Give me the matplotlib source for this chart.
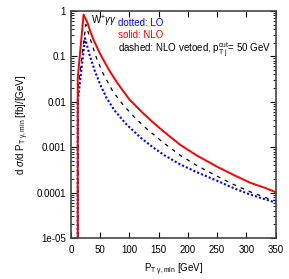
import numpy as np
from matplotlib import pyplot as plt
from matplotlib.ticker import LogLocator, NullFormatter

plt.rcParams['font.family'] = ['Liberation Sans', 'DejaVu Sans']
plt.rcParams['mathtext.fontset'] = 'custom'
plt.rcParams['mathtext.rm'] = 'Liberation Sans'
plt.rcParams['mathtext.it'] = 'Liberation Sans:italic'
plt.rcParams['mathtext.bf'] = 'Liberation Sans:bold'

# NLO (solid red), log10 of d sigma / d pT
pt_nlo = [11.5, 11.5, 21.5, 28, 33, 38, 50, 65, 80, 100, 120, 140, 160, 187, 215, 250, 278, 306, 335, 350]
lg_nlo = [-8, -1.48, -0.08, -0.25, -0.45, -0.62, -0.95, -1.30, -1.60, -1.95, -2.21, -2.45, -2.67, -2.95, -3.18, -3.43, -3.61, -3.78, -3.91, -3.99]

# LO (dotted blue)
pt_lo = [11.5, 11.5, 24, 32.5, 41, 50, 61, 75, 95, 120, 140, 160, 187, 215, 250, 278, 306, 335, 350]
lg_lo = [-8, -2.0, -0.60, -1.00, -1.33, -1.62, -1.92, -2.20, -2.50, -2.80, -3.00, -3.18, -3.38, -3.55, -3.74, -3.90, -4.04, -4.16, -4.22]

# NLO vetoed, pT jet cut 50 GeV (dashed black)
pt_veto = [12, 12, 25.5, 32.5, 44, 55, 72, 90, 110, 130, 160, 187, 215, 250, 278, 306, 335, 350]
lg_veto = [-8, -1.7, -0.30, -0.60, -1.05, -1.38, -1.78, -2.08, -2.36, -2.60, -2.92, -3.18, -3.40, -3.64, -3.82, -3.98, -4.12, -4.18]

y_ticks = [1e-5, 1e-4, 1e-3, 1e-2, 1e-1, 1]
y_labels = ['1e-05', '0.0001', '0.001', '0.01', '0.1', '1']
x_ticks = [0, 50, 100, 150, 200, 250, 300, 350]

fig = plt.figure(figsize=(2.89, 2.79), dpi=100)
ax = fig.add_axes([0.2457, 0.147, 0.7076, 0.8136])

ax.plot(pt_lo, 10 ** np.array(lg_lo), color='#0000ff', lw=1.5, linestyle=(0, (1, 1)))
ax.plot(pt_veto, 10 ** np.array(lg_veto), color='black', lw=0.9, linestyle=(0, (3, 4)))
ax.plot(pt_nlo, 10 ** np.array(lg_nlo), color='#ff0000', lw=1.4)

ax.set_yscale('log')
ax.set_xlim(0, 350)
ax.set_ylim(1e-5, 1)
ax.set_xticks(x_ticks)
ax.set_yticks(y_ticks)
ax.set_yticklabels(y_labels)
ax.yaxis.set_minor_locator(LogLocator(base=10, subs=np.arange(2, 10)))
ax.yaxis.set_minor_formatter(NullFormatter())

ax.tick_params(which='both', direction='in', top=True, right=True, labelsize=7, colors='black')
ax.tick_params(which='major', length=4, width=0.8)
ax.tick_params(which='minor', length=2, width=0.6)
ax.tick_params(axis='x', pad=5)
for s in ax.spines.values():
    s.set_linewidth(1.2)
    s.set_color('#444444')

ax.set_xlabel(r'P$_{\mathrm{T\ \gamma,min}}$ [GeV]', fontsize=7, labelpad=5)
ax.set_ylabel(r'd $\sigma$/d P$_{\mathrm{T\ \gamma,min}}$ [fb]/[GeV]', fontsize=7, labelpad=4)

ax.text(0.1, 0.94, r'W$^{+}\gamma\gamma$', transform=ax.transAxes, fontsize=7, va='baseline')
ax.text(0.23, 0.933, 'dotted: LO', transform=ax.transAxes, fontsize=7, color='#0000ff', va='baseline')
ax.text(0.23, 0.883, 'solid: NLO', transform=ax.transAxes, fontsize=7, color='#ff0000', va='baseline')
ax.text(0.23, 0.815, r'dashed: NLO vetoed, p$_{\mathrm{T\ j}}^{\mathrm{cut}}$= 50 GeV', transform=ax.transAxes, fontsize=7, color='black', va='baseline')

fig.savefig('out.png', dpi=100)
